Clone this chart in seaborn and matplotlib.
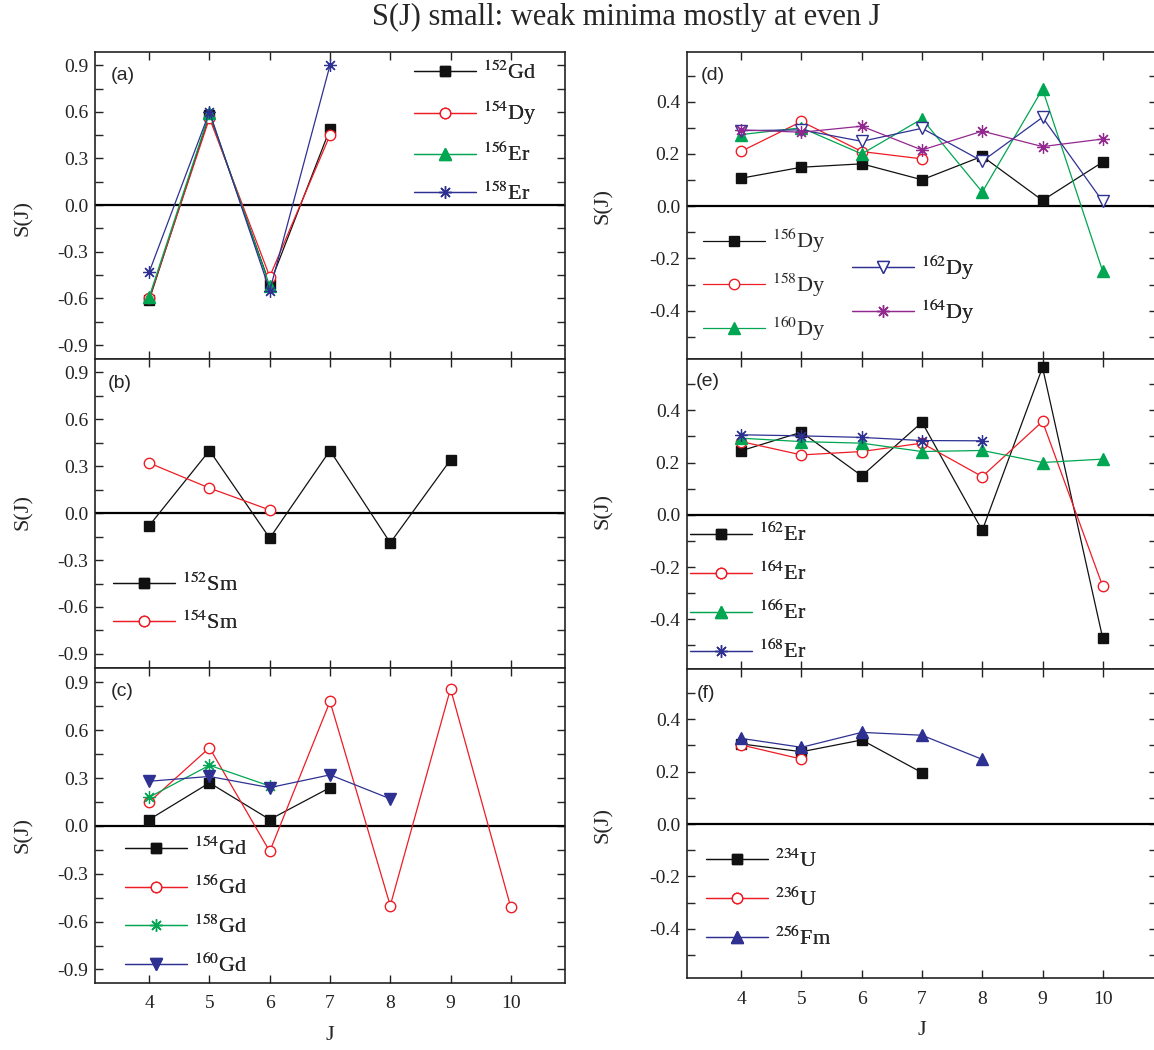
import numpy as np
import pandas as pd
import matplotlib
matplotlib.use("Agg")
import matplotlib.pyplot as plt
import seaborn as sns
from matplotlib.ticker import MultipleLocator, FormatStrFormatter, FixedLocator
from matplotlib.font_manager import FontProperties

# ---------------- data ----------------
J_VALUES = [4, 5, 6, 7, 8, 9, 10]

# panel (a)
gd152 = [-0.61, 0.58, -0.51, 0.49]
dy154 = [-0.60, 0.56, -0.46, 0.45]
er156 = [-0.59, 0.59, -0.52]
er158 = [-0.43, 0.60, -0.55, 0.90]
# panel (b)
sm152 = [-0.08, 0.40, -0.16, 0.40, -0.19, 0.34]
sm154 = [0.32, 0.16, 0.02]
# panel (c)
gd154 = [0.04, 0.27, 0.04, 0.24]
gd156 = [0.15, 0.49, -0.16, 0.78, -0.50, 0.86, -0.51]
gd158 = [0.18, 0.38, 0.25]
gd160 = [0.28, 0.31, 0.24, 0.32, 0.17]
# panel (d)
dy156 = [0.107, 0.149, 0.162, 0.101, 0.191, 0.022, 0.169]
dy158 = [0.21, 0.324, 0.209, 0.181]
dy160 = [0.274, 0.30, 0.20, 0.334, 0.054, 0.448, -0.25]
dy162 = [0.289, 0.292, 0.248, 0.298, 0.172, 0.34, 0.018]
dy164 = [0.292, 0.283, 0.306, 0.215, 0.287, 0.228, 0.257]
# panel (e)
er162 = [0.245, 0.316, 0.149, 0.354, -0.06, 0.564, -0.473]
er164 = [0.28, 0.229, 0.242, 0.274, 0.146, 0.357, -0.274]
er166 = [0.293, 0.28, 0.274, 0.242, 0.246, 0.20, 0.213]
er168 = [0.306, 0.302, 0.296, 0.284, 0.283]
# panel (f)
u234 = [0.306, 0.276, 0.321, 0.196]
u236 = [0.302, 0.248]
fm256 = [0.327, 0.293, 0.35, 0.339, 0.247]

TITLE = "S(J) small: weak minima mostly at even J"

# ---------------- style ----------------
sns.set_style("ticks")
plt.rcParams['font.family'] = ['Liberation Serif', 'DejaVu Serif']
plt.rcParams['mathtext.fontset'] = 'stix'
plt.rcParams['axes.unicode_minus'] = False

BLACK = '#111111'
RED = '#ee1c25'
GREEN = '#00a651'
BLUE = '#2e3192'
PURPLE = '#92278f'
STAR = (8, 2, 0)

W, H = 1154, 1050
fig = plt.figure(figsize=(W / 100, H / 100), dpi=100)


def make_axes(left, top, right, bottom):
    return fig.add_axes([left / W, 1 - bottom / H, (right - left) / W, (bottom - top) / H])


def draw(ax, vals, color, marker, filled=True, ms=7.5, mew=1.0):
    df = pd.DataFrame({'J': J_VALUES[:len(vals)], 'S': vals})
    sns.lineplot(data=df, x='J', y='S', ax=ax, color=color, marker=marker,
                 markersize=ms, linewidth=0.9,
                 markerfacecolor=(color if filled else 'white'),
                 markeredgecolor=color, markeredgewidth=mew,
                 errorbar=None, legend=False, zorder=3)
    return ax.lines[-1]


def style_axes(ax, ylim, major, minor, labelx, panel, pxy):
    ax.set_xlim(3.1, 10.9)
    ax.set_ylim(*ylim)
    ax.xaxis.set_major_locator(FixedLocator(J_VALUES))
    ax.yaxis.set_major_locator(MultipleLocator(major))
    ax.yaxis.set_minor_locator(MultipleLocator(minor))
    ax.yaxis.set_major_formatter(FormatStrFormatter('%.1f'))
    ax.tick_params(which='major', direction='in', length=6, width=1.0,
                   top=True, right=True, labelsize=14, pad=5, colors='#222222')
    ax.tick_params(axis='x', which='major', pad=9)
    ax.tick_params(which='minor', direction='in', length=6, width=1.0,
                   left=True, right=True, top=False, bottom=False)
    ax.tick_params(axis='x', which='minor', bottom=False, top=False)
    ax.tick_params(labelbottom=labelx)
    for sp in ax.spines.values():
        sp.set_linewidth(1.2)
        sp.set_color('#222222')
    ax.axhline(0, color='black', lw=1.6, zorder=1)
    ax.set_xlabel('J' if labelx else '', fontsize=16, labelpad=10)
    ax.set_ylabel('S(J)', fontsize=16)
    ax.text(pxy[0], pxy[1], panel, transform=ax.transAxes, fontsize=14,
            family='Liberation Sans', va='center', ha='left')


def add_legend(ax, handles, labels, x, y):
    leg = ax.legend(handles=handles, labels=labels, loc='center left',
                    bbox_to_anchor=(x, y), frameon=False, borderpad=0,
                    borderaxespad=0, handlelength=2.8, handletextpad=0.3,
                    labelspacing=0.71, numpoints=1,
                    prop=FontProperties(family='Liberation Serif', size=16))
    ax.add_artist(leg)
    return leg


LEFT = (95, 565)
RIGHT = (687, 1157)

ax_a = make_axes(LEFT[0], 52, LEFT[1], 359)
ax_b = make_axes(LEFT[0], 359, LEFT[1], 668)
ax_c = make_axes(LEFT[0], 668, LEFT[1], 983)
ax_d = make_axes(RIGHT[0], 52, RIGHT[1], 359)
ax_e = make_axes(RIGHT[0], 359, RIGHT[1], 669)
ax_f = make_axes(RIGHT[0], 669, RIGHT[1], 978)

# (a)
h = [draw(ax_a, gd152, BLACK, 's'),
     draw(ax_a, dy154, RED, 'o', filled=False),
     draw(ax_a, er156, GREEN, '^', ms=8),
     draw(ax_a, er158, BLUE, STAR, ms=9, mew=0.9)]
style_axes(ax_a, (-0.99, 0.985), 0.3, 0.15, False, '(a)', (0.034, 0.925))
add_legend(ax_a, h, [r'$^{152}$Gd', r'$^{154}$Dy', r'$^{156}$Er', r'$^{158}$Er'], 0.679, 0.7355)
ax_a.yaxis.set_label_coords(-0.132, 0.46)

# (b)
h = [draw(ax_b, sm152, BLACK, 's'),
     draw(ax_b, sm154, RED, 'o', filled=False)]
style_axes(ax_b, (-0.99, 0.985), 0.3, 0.15, False, '(b)', (0.028, 0.922))
add_legend(ax_b, h, [r'$^{152}$Sm', r'$^{154}$Sm'], 0.0377, 0.209)
ax_b.yaxis.set_label_coords(-0.132, 0.505)

# (c)
h = [draw(ax_c, gd154, BLACK, 's'),
     draw(ax_c, gd156, RED, 'o', filled=False),
     draw(ax_c, gd158, GREEN, STAR, ms=9, mew=0.9),
     draw(ax_c, gd160, BLUE, 'v', ms=8)]
style_axes(ax_c, (-0.985, 0.99), 0.3, 0.15, True, '(c)', (0.033, 0.925))
add_legend(ax_c, h, [r'$^{154}$Gd', r'$^{156}$Gd', r'$^{158}$Gd', r'$^{160}$Gd'], 0.0638, 0.2406)
ax_c.yaxis.set_label_coords(-0.132, 0.47)

# (d)
h = [draw(ax_d, dy156, BLACK, 's'),
     draw(ax_d, dy158, RED, 'o', filled=False),
     draw(ax_d, dy160, GREEN, '^', ms=8),
     draw(ax_d, dy162, BLUE, 'v', filled=False, ms=8),
     draw(ax_d, dy164, PURPLE, STAR, ms=9, mew=0.9)]
style_axes(ax_d, (-0.585, 0.59), 0.2, 0.1, False, '(d)', (0.029, 0.925))
add_legend(ax_d, h[:3], [r'$^{156}$Dy', r'$^{158}$Dy', r'$^{160}$Dy'], 0.0334, 0.241)
add_legend(ax_d, h[3:], [r'$^{162}$Dy', r'$^{164}$Dy'], 0.3504, 0.2248)
ax_d.yaxis.set_label_coords(-0.157, 0.5)

# (e)
h = [draw(ax_e, er162, BLACK, 's'),
     draw(ax_e, er164, RED, 'o', filled=False),
     draw(ax_e, er166, GREEN, '^', ms=8),
     draw(ax_e, er168, BLUE, STAR, ms=9, mew=0.9)]
style_axes(ax_e, (-0.59, 0.596), 0.2, 0.1, False, '(e)', (0.019, 0.927))
add_legend(ax_e, h, [r'$^{162}$Er', r'$^{164}$Er', r'$^{166}$Er', r'$^{168}$Er'], 0.0064, 0.244)
ax_e.yaxis.set_label_coords(-0.157, 0.51)

# (f)
h = [draw(ax_f, u234, BLACK, 's'),
     draw(ax_f, u236, RED, 'o', filled=False),
     draw(ax_f, fm256, BLUE, '^', ms=8)]
style_axes(ax_f, (-0.588, 0.592), 0.2, 0.1, True, '(f)', (0.021, 0.922))
add_legend(ax_f, h, [r'$^{234}$U', r'$^{236}$U', r'$^{256}$Fm'], 0.0404, 0.2547)
ax_f.yaxis.set_label_coords(-0.157, 0.495)

fig.text(626 / W, 1 - 17 / H, TITLE, ha='center', va='center', fontsize=22,
         family='Liberation Serif')

fig.savefig('out.png', dpi=100)
